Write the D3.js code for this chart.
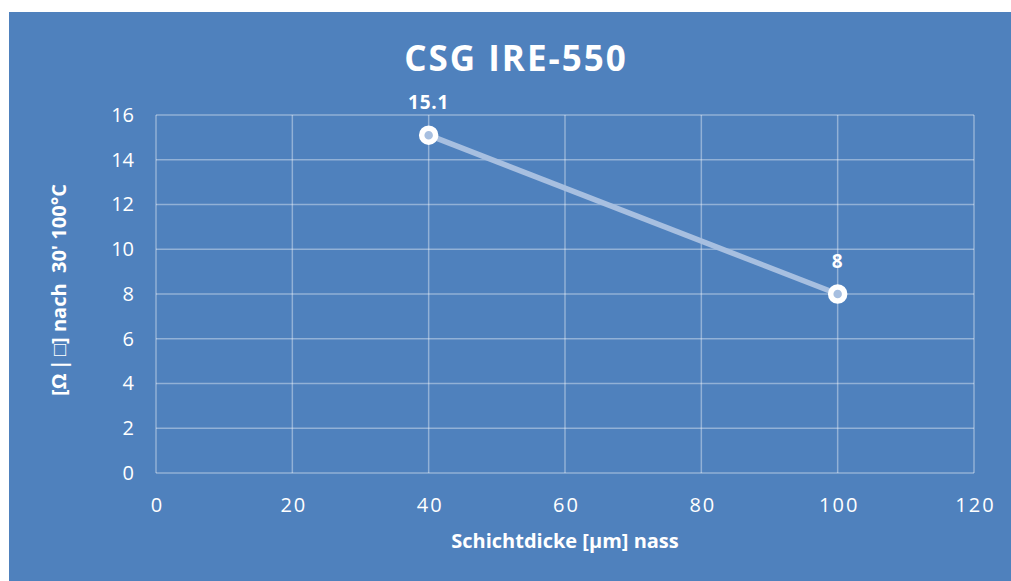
<!DOCTYPE html>
<html><head><meta charset="utf-8">
<script src="https://cdn.jsdelivr.net/npm/d3@7"></script>
<style>html,body{margin:0;padding:0;background:#fff;}svg{display:block;}</style>
</head><body>
<svg id="c" width="1011" height="581"></svg>
<script>
const xValues = [40, 100];
const yValues = [15.1, 8];
const xTicks = [0, 20, 40, 60, 80, 100, 120];
const yTicks = [0, 2, 4, 6, 8, 10, 12, 14, 16];
const title = "CSG IRE-550";
const xTitle = "Schichtdicke [µm] nass";
const yTitle = "[Ω\u2009|\u2009□] nach  30' 100°C";

const svg = d3.select("#c");
const font = "'Open Sans', sans-serif";
svg.append("rect").attr("x",9).attr("y",12).attr("width",1002).attr("height",569).attr("fill","#4f81bd");
const m = {l:156, r:974, t:115, b:473};
const x = d3.scaleLinear().domain([0,120]).range([m.l,m.r]);
const y = d3.scaleLinear().domain([0,16]).range([m.b,m.t]);
const grid = "rgba(255,255,255,0.38)";
svg.append("g").selectAll("line").data(xTicks).join("line")
  .attr("x1",d=>x(d)).attr("x2",d=>x(d)).attr("y1",m.t).attr("y2",m.b).attr("stroke",grid).attr("stroke-width",1.5);
svg.append("g").selectAll("line").data(yTicks).join("line")
  .attr("y1",d=>y(d)).attr("y2",d=>y(d)).attr("x1",m.l).attr("x2",m.r).attr("stroke",grid).attr("stroke-width",1.5);

const xa = svg.append("g").attr("transform",`translate(0,${m.b})`).call(d3.axisBottom(x).tickValues(xTicks).tickSize(0).tickPadding(25));
const ya = svg.append("g").attr("transform",`translate(${m.l},0)`).call(d3.axisLeft(y).tickValues(yTicks).tickSize(0).tickPadding(22));
[xa,ya].forEach(a=>{a.select(".domain").remove();a.selectAll("text").attr("fill","#fff").attr("font-family",font).attr("font-size",20);});
xa.selectAll("text").attr("letter-spacing","2px").attr("dx","1px");
ya.selectAll("text").attr("letter-spacing","0px");

svg.append("text").attr("x",516).attr("y",71).attr("text-anchor","middle").attr("fill","#fff")
  .attr("font-family",font).attr("font-weight","bold").attr("font-size",35).attr("letter-spacing","2px").text(title);
svg.append("text").attr("x",565).attr("y",548).attr("text-anchor","middle").attr("fill","#fff")
  .attr("font-family",font).attr("font-weight","bold").attr("font-size",20).text(xTitle);
svg.append("text").attr("transform","translate(66,290) rotate(-90)").attr("text-anchor","middle").attr("fill","#fff")
  .attr("font-family",font).attr("font-weight","bold").attr("font-size",20).attr("xml:space","preserve").text(yTitle);

const pts = xValues.map((v,i)=>[v,yValues[i]]);
svg.append("path").datum(pts).attr("d",d3.line().x(d=>x(d[0])).y(d=>y(d[1])))
  .attr("fill","none").attr("stroke","#a7bfe0").attr("stroke-width",5.5);
svg.append("g").selectAll("circle").data(pts).join("circle")
  .attr("cx",d=>x(d[0])).attr("cy",d=>y(d[1])).attr("r",7).attr("fill","#a7bfe0").attr("stroke","#fff").attr("stroke-width",5.5);
svg.append("g").selectAll("text").data(pts).join("text")
  .attr("x",d=>x(d[0])).attr("y",d=>y(d[1])-26).attr("text-anchor","middle").attr("fill","#fff")
  .attr("font-family",font).attr("font-weight","bold").attr("font-size",19).attr("letter-spacing","0.8px").text(d=>d[1]);
</script>
</body></html>
